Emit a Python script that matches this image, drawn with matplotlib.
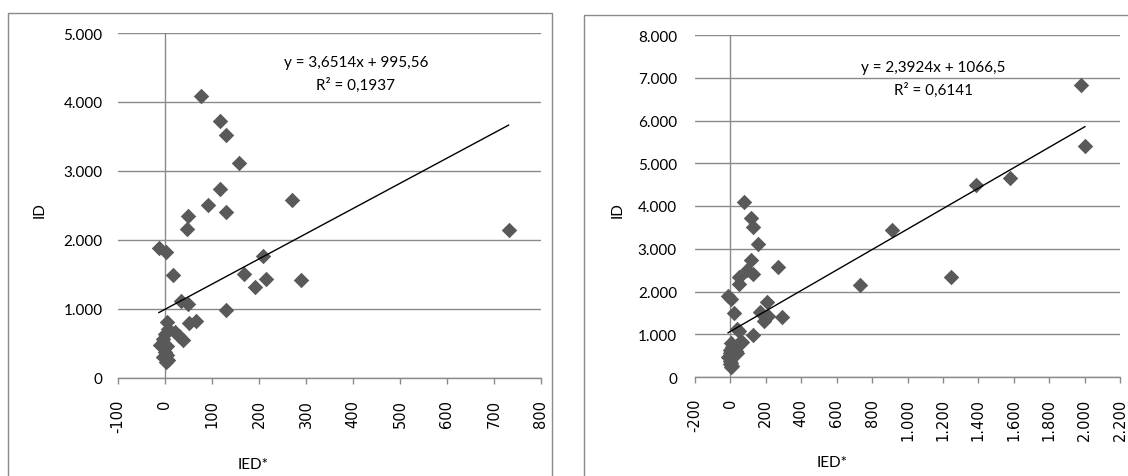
import matplotlib
matplotlib.use("Agg")
import matplotlib.pyplot as plt
from matplotlib.patches import Rectangle
from matplotlib.ticker import FuncFormatter, MultipleLocator

# IED* vs ID, points shared by both charts
ied = [76, 117, 129, 157, 117, 92, 129, 270, 49, 47, 731, -13, 3, 209, 18,
       168, 215, 290, 192, 35, 48, 130, 50, 67, 4, 7, 21, 29, 38, -4, -11,
       5, 0, 5, -4, 2, 7, 0]
id_vals = [4085, 3720, 3520, 3110, 2745, 2510, 2410, 2580, 2350, 2165, 2150,
           1888, 1828, 1762, 1496, 1510, 1428, 1414, 1320, 1112, 1074, 992,
           795, 822, 805, 713, 664, 607, 556, 568, 472, 462, 376, 327, 303,
           231, 255, 640]

# extra points only in the right chart
ied_extra = [915, 1244, 1388, 1577, 1981, 2002]
id_extra = [3445, 2340, 4490, 4655, 6835, 5395]

# trendlines as printed on the charts
slope_left, icept_left, r2_left = 3.6514, 995.56, 0.1937
slope_right, icept_right, r2_right = 2.3924, 1066.5, 0.6141

W, H = 1128, 477
GRID = "#8a8a8a"
MARK = "#595959"
CAL = "Lato"


def fx(x):
    return x / W


def fy(y):
    return 1 - y / H


def thousands(v, pos=None):
    return "{:,.0f}".format(v).replace(",", ".")


def setup(ax, xlim, xstep, ylim, ystep, ypad):
    ax.set_xlim(*xlim)
    ax.set_ylim(*ylim)
    for s in ax.spines.values():
        s.set_visible(False)
    ax.spines["bottom"].set_visible(True)
    ax.spines["bottom"].set_color(GRID)
    ax.spines["bottom"].set_linewidth(1.0)
    ax.xaxis.set_major_locator(MultipleLocator(xstep))
    ax.yaxis.set_major_locator(MultipleLocator(ystep))
    ax.xaxis.set_major_formatter(FuncFormatter(thousands))
    ax.yaxis.set_major_formatter(FuncFormatter(thousands))
    ax.tick_params(axis="x", direction="out", length=4, width=1.0,
                   color=GRID, pad=11)
    ax.tick_params(axis="y", length=0, pad=ypad)
    for lab in ax.get_xticklabels():
        lab.set_rotation(90)
        lab.set_va("top")
        lab.set_ha("center")
        lab.set_family("DejaVu Sans")
        lab.set_fontsize(10.5)
    for lab in ax.get_yticklabels():
        lab.set_family(CAL)
        lab.set_fontsize(11)
    ax.grid(axis="y", color=GRID, lw=1.0)
    ax.set_axisbelow(True)
    ax.axvline(0, color=GRID, lw=1.0, zorder=1)


fig = plt.figure(figsize=(W / 100, H / 100), dpi=100)

# chart frames
fig.patches.append(Rectangle((fx(8), fy(490)), fx(552 - 8), 490 / H - 14 / H,
                             transform=fig.transFigure, fill=False,
                             ec=GRID, lw=1.0))
fig.patches.append(Rectangle((fx(584), fy(490)), fx(1140 - 584), 490 / H - 16 / H,
                             transform=fig.transFigure, fill=False,
                             ec=GRID, lw=1.0))

# left chart
ax1 = fig.add_axes([fx(118), fy(379), fx(541 - 118), (379 - 34) / H])
setup(ax1, (-100, 800), 100, (0, 5000), 1000, 11)
ax1.scatter(ied, id_vals, marker="D", s=62, color=MARK, lw=0, zorder=3)
x0, x1 = min(ied), max(ied)
ax1.plot([x0, x1], [slope_left * x0 + icept_left, slope_left * x1 + icept_left],
         color="black", lw=1.0, zorder=4)

# right chart
all_x = ied + ied_extra
all_y = id_vals + id_extra
ax2 = fig.add_axes([fx(695), fy(378), fx(1120 - 695), (378 - 36) / H])
setup(ax2, (-200, 2200), 200, (0, 8000), 1000, 13)
ax2.scatter(all_x, all_y, marker="D", s=62, color=MARK, lw=0, zorder=3)
x0, x1 = min(all_x), max(all_x)
ax2.plot([x0, x1], [slope_right * x0 + icept_right, slope_right * x1 + icept_right],
         color="black", lw=1.0, zorder=4)


def num(v):
    return str(v).replace(".", ",")


# equations
fig.text(fx(356), fy(63), "y = {}x + {}".format(num(slope_left), num(icept_left)),
         ha="center", va="center", family=CAL, fontsize=11)
fig.text(fx(356), fy(85), "R² = {}".format(num(r2_left)),
         ha="center", va="center", family=CAL, fontsize=11)
fig.text(fx(933), fy(68), "y = {}x + {}".format(num(slope_right), num(icept_right)),
         ha="center", va="center", family=CAL, fontsize=11)
fig.text(fx(933), fy(90), "R² = {}".format(num(r2_right)),
         ha="center", va="center", family=CAL, fontsize=11)

# axis titles
for xid, xied, yied in [(40, 253, 465), (618, 832, 463)]:
    fig.text(fx(xid), fy(210), "ID", rotation=90, ha="center", va="center",
             family=CAL, fontsize=11)
    fig.text(fx(xied), fy(yied), "IED*", ha="center", va="center",
             family=CAL, fontsize=11)

fig.savefig("out.png", dpi=100)
